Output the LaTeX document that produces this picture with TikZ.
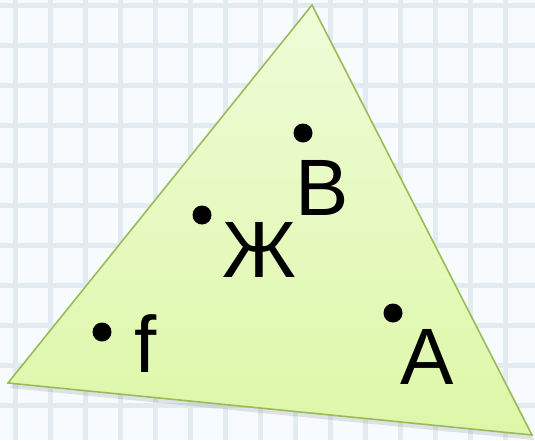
\documentclass[tikz,border=0pt]{standalone}
\usepackage{fontspec}
\setmainfont{Liberation Sans}
\usetikzlibrary{shadows}
\definecolor{gridbg}{HTML}{F7FBFD}
\definecolor{gridln}{HTML}{E2EBF0}
\definecolor{trifill}{HTML}{DDF7A8}
\definecolor{trifilltop}{HTML}{EFFCD8}
\definecolor{triedge}{HTML}{9BBB59}
\begin{document}
\begin{tikzpicture}[
  x=1pt, y=-1pt,
  dot/.style={circle,fill=black,inner sep=0pt,minimum size=19pt},
  lbl/.style={inner sep=0pt,font=\fontsize{80}{82}\selectfont}
]
\useasboundingbox (0,0) rectangle (535,440);
\fill[gridbg] (0,0) rectangle (535,440);
% squared paper
\foreach \gx in {15,50,...,540} \draw[gridln,line width=5pt] (\gx,0) -- (\gx,440);
\foreach \gy in {5,45,...,440} \draw[gridln,line width=5pt] (0,\gy) -- (535,\gy);
% triangle
\shade[top color=trifilltop,bottom color=trifill,draw=triedge,line width=1.6pt,
  drop shadow={shadow xshift=2pt,shadow yshift=-5pt,opacity=0.2}]
  (312,5) -- (8,383) -- (532,435) -- cycle;
% points and letters
\node[dot] (pB) at (303,133) {};
\node[lbl] (lB) at (322,188) {B};
\node[dot] (pZh) at (202,215) {};
\node[lbl] (lZh) at (259,250) {Ж};
\node[dot] (pf) at (102,332) {};
\node[lbl] (lf) at (146,344) {f};
\node[dot] (pA) at (393,313) {};
\node[lbl] (lA) at (427,357) {A};
\end{tikzpicture}
\end{document}
